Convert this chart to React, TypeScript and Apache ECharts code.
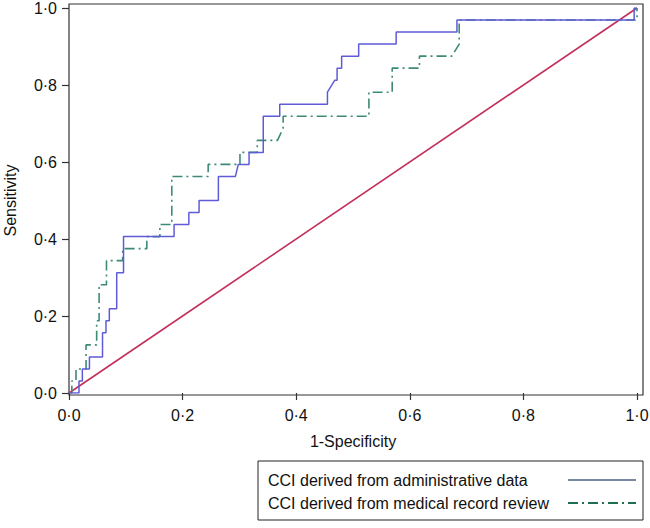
import React, { useEffect, useRef } from "react";
import * as echarts from "echarts";

const adminX = [0, 0.0176, 0.0176, 0.0235, 0.0235, 0.036, 0.036, 0.059, 0.059, 0.0651, 0.0651, 0.071, 0.071, 0.084, 0.084, 0.096, 0.096, 0.185, 0.185, 0.211, 0.211, 0.229, 0.229, 0.263, 0.263, 0.293, 0.298, 0.317, 0.317, 0.342, 0.342, 0.371, 0.371, 0.455, 0.455, 0.468, 0.472, 0.472, 0.48, 0.48, 0.51, 0.51, 0.576, 0.576, 0.683, 0.683, 0.995, 0.995, 1];
const adminY = [0, 0, 0.03125, 0.03125, 0.0625, 0.0625, 0.09375, 0.09375, 0.15625, 0.15625, 0.1875, 0.1875, 0.21875, 0.21875, 0.3125, 0.3125, 0.40625, 0.40625, 0.4375, 0.4375, 0.46875, 0.46875, 0.5, 0.5, 0.5625, 0.5625, 0.59375, 0.59375, 0.625, 0.625, 0.71875, 0.71875, 0.75, 0.75, 0.78125, 0.8125, 0.8125, 0.84375, 0.84375, 0.875, 0.875, 0.90625, 0.90625, 0.9375, 0.9375, 0.96875, 0.96875, 1, 1];

const medX = [0, 0.005, 0.005, 0.0123, 0.0123, 0.03, 0.03, 0.0487, 0.0487, 0.053, 0.053, 0.066, 0.066, 0.0945, 0.0945, 0.137, 0.137, 0.16, 0.16, 0.181, 0.181, 0.245, 0.245, 0.301, 0.301, 0.3315, 0.3315, 0.367, 0.377, 0.377, 0.528, 0.528, 0.569, 0.569, 0.617, 0.617, 0.674, 0.687, 0.687, 1, 1];
const medY = [0, 0, 0.03125, 0.03125, 0.0625, 0.0625, 0.125, 0.125, 0.1875, 0.1875, 0.28125, 0.28125, 0.34375, 0.34375, 0.375, 0.375, 0.40625, 0.40625, 0.4375, 0.4375, 0.5625, 0.5625, 0.59375, 0.59375, 0.625, 0.625, 0.65625, 0.65625, 0.6875, 0.71875, 0.71875, 0.78125, 0.78125, 0.84375, 0.84375, 0.875, 0.875, 0.90625, 0.96875, 0.96875, 1];

const refX = [0, 1];
const refY = [0, 1];

const seriesNames = [
  "CCI derived from administrative data",
  "CCI derived from medical record review",
];
const xAxisTitle = "1-Specificity";
const yAxisTitle = "Sensitivity";

const FONT = "'Liberation Sans', Arial, Helvetica, sans-serif";
const FS = 16;
const fmt = (v: number) => v.toFixed(1).replace(".", "\u00B7");

export default function App() {
  const ref = useRef<HTMLDivElement>(null);
  useEffect(() => {
    if (!ref.current) return;
    const chart = echarts.init(ref.current, undefined, { renderer: "svg" });
    const zip = (xs: number[], ys: number[]) => xs.map((x, i) => [x, ys[i]]);
    chart.setOption({
      animation: false,
      backgroundColor: "#ffffff",
      textStyle: { fontFamily: FONT },
      grid: [
        { left: 69, right: 13, top: 8, bottom: 135, show: false, containLabel: false, outerBoundsMode: "none" },
        { left: 69, right: 7, top: 4, bottom: 133, show: true, borderColor: "#333333", borderWidth: 1.2, backgroundColor: "transparent", containLabel: false, outerBoundsMode: "none" },
      ],
      xAxis: [
        {
          type: "value", gridIndex: 0, min: 0, max: 1, interval: 0.2, offset: 2,
          name: xAxisTitle, nameLocation: "middle", nameGap: 38,
          nameTextStyle: { fontSize: FS, color: "#111", fontFamily: FONT },
          axisLine: { show: false },
          axisTick: { show: true, length: 7, lineStyle: { color: "#333", width: 1.2 } },
          axisLabel: { formatter: fmt, fontSize: FS, color: "#111", margin: 12, fontFamily: FONT },
          splitLine: { show: false },
        },
        { type: "value", gridIndex: 1, min: 0, max: 1, show: false },
      ],
      yAxis: [
        {
          type: "value", gridIndex: 0, min: 0, max: 1, interval: 0.2,
          name: yAxisTitle, nameLocation: "middle", nameGap: 51,
          nameTextStyle: { fontSize: FS, color: "#111", fontFamily: FONT },
          axisLine: { show: false },
          axisTick: { show: true, length: 7, lineStyle: { color: "#333", width: 1.2 } },
          axisLabel: { formatter: fmt, fontSize: FS, color: "#111", margin: 12, fontFamily: FONT },
          splitLine: { show: false },
        },
        { type: "value", gridIndex: 1, min: 0, max: 1, show: false },
      ],
      legend: {
        data: [
          { name: seriesNames[0], lineStyle: { color: "#4a6080", width: 1.5 }, itemStyle: { opacity: 0 } },
          { name: seriesNames[1], lineStyle: { color: "#1f6e4e", width: 2 }, itemStyle: { opacity: 0 } },
        ],
        orient: "vertical",
        align: "right",
        left: 258,
        top: 461,
        padding: [11, 6, 9, 10],
        itemGap: 7,
        itemWidth: 68,
        itemHeight: 15,
        borderColor: "#222",
        borderWidth: 1,
        formatter: (name: string) => `{a|${name}}`,
        textStyle: {
          fontSize: FS,
          color: "#111",
          fontFamily: FONT,
          rich: { a: { width: 295, align: "left", fontSize: FS, color: "#111", fontFamily: FONT } },
        },
      },
      series: [
        {
          type: "line", name: "Reference", xAxisIndex: 0, yAxisIndex: 0,
          data: zip(refX, refY), symbol: "none",
          lineStyle: { color: "#c2305a", width: 1.6 }, z: 2,
        },
        {
          type: "line", name: seriesNames[1], xAxisIndex: 0, yAxisIndex: 0,
          data: zip(medX, medY), symbol: "none",
          itemStyle: { color: "#3d8a78" },
          lineStyle: { color: "#3d8a78", width: 1.6, type: [10, 4, 2, 4] }, z: 3,
        },
        {
          type: "line", name: seriesNames[0], xAxisIndex: 0, yAxisIndex: 0,
          data: zip(adminX, adminY), symbol: "none",
          itemStyle: { color: "#5f5bd8" },
          lineStyle: { color: "#5f5bd8", width: 1.5 }, z: 4,
        },
      ],
    });
    return () => chart.dispose();
  }, []);
  return (
    <div
      ref={ref}
      style={{ position: "fixed", left: 0, top: 0, width: 650, height: 528 }}
    />
  );
}
